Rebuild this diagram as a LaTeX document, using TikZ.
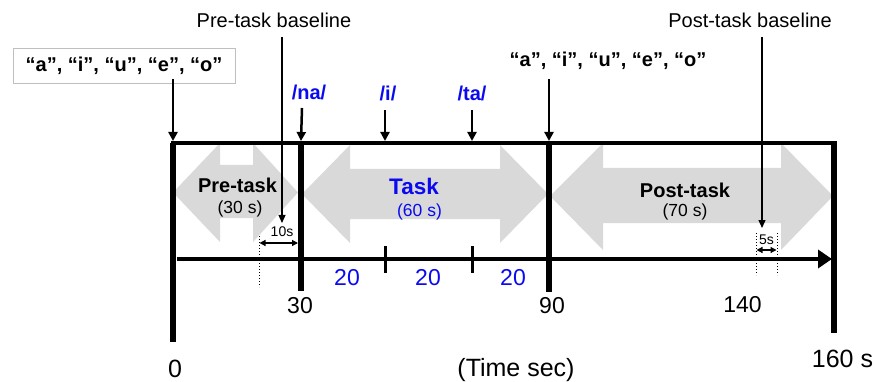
\documentclass[tikz,border=0pt]{standalone}
\usepackage{fontspec}
\setmainfont{Liberation Sans}
\usetikzlibrary{arrows.meta}
\definecolor{arrgray}{HTML}{D9D9D9}
\definecolor{txtblue}{HTML}{0A0AF0}
\begin{document}
\begin{tikzpicture}[x=1pt,y=-1pt,
  lbl/.style={inner sep=0pt,font=\fontsize{20}{24}\selectfont},
  blbl/.style={inner sep=0pt,font=\fontsize{20}{24}\selectfont\bfseries},
  sublbl/.style={inner sep=0pt,font=\fontsize{17.5}{21}\selectfont},
  numlbl/.style={inner sep=0pt,font=\fontsize{23}{27}\selectfont},
  biglbl/.style={inner sep=0pt,font=\fontsize{25}{30}\selectfont},
  smlbl/.style={inner sep=0pt,font=\fontsize{14}{16}\selectfont},
  thickv/.style={line width=6pt},
  eventarrow/.style={line width=2.5pt,-{Triangle[length=9pt,width=9pt]}},
  basearrow/.style={line width=1.2pt,-{Triangle[length=8pt,width=7pt]}},
  dimarrow/.style={line width=1.2pt,{Triangle[length=6pt,width=6pt]}-{Triangle[length=6pt,width=6pt]}},
  dotline/.style={line width=1pt,dotted},
  grayarrow/.style={fill=arrgray,draw=none}]
\useasboundingbox (0,0) rectangle (875,382);

% gray double arrows
\fill[grayarrow] (173,192.5) -- (220,143) -- (220,165) -- (253,165) -- (253,143) -- (298,192.5)
  -- (253,242) -- (253,218) -- (220,218) -- (220,242) -- cycle;
\fill[grayarrow] (302,194) -- (350,145) -- (350,169) -- (500,169) -- (500,145) -- (548,194)
  -- (500,243) -- (500,219) -- (350,219) -- (350,243) -- cycle;
\fill[grayarrow] (550,196) -- (603,143) -- (603,168) -- (781,168) -- (781,143) -- (833,196)
  -- (781,250) -- (781,223) -- (603,223) -- (603,250) -- cycle;

% coordinates
\coordinate (t0top) at (173,141);
\coordinate (t0bot) at (173,342);
\coordinate (t30top) at (301,141);
\coordinate (t30bot) at (301,291);
\coordinate (t90top) at (549,141);
\coordinate (t90bot) at (549,292);
\coordinate (t160top) at (834,141);
\coordinate (t160bot) at (834,333);
\coordinate (axstart) at (177,259);
\coordinate (axend) at (832,259);

% frame lines
\draw[line width=4pt] (171,143) -- (837,143);
\draw[thickv] (173,143) -- (t0bot);
\draw[thickv] (301,143) -- (t30bot);
\draw[thickv] (549,143) -- (t90bot);
\draw[thickv] (834,143) -- (t160bot);

% time axis
\draw[line width=4.5pt,-{Triangle[length=14pt,width=18pt]}] (axstart) -- (axend);
\coordinate (tickA1) at (385,246);
\coordinate (tickA2) at (385,273);
\coordinate (tickB1) at (472,246);
\coordinate (tickB2) at (472,273);
\draw[line width=3pt] (tickA1) -- (tickA2);
\draw[line width=3pt] (tickB1) -- (tickB2);

% vowel stimuli
\node[blbl,draw=gray!50,line width=0.8pt,minimum width=222pt,minimum height=35pt] (vbox) at (124,65.5) {“a”, “i”, “u”, “e”, “o”};
\coordinate (vboxout) at (173,79);
\draw[eventarrow] (vboxout) -- (t0top);
\node[blbl] (vtext2) at (608,61) {“a”, “i”, “u”, “e”, “o”};
\coordinate (v2out) at (549,79);
\draw[eventarrow] (v2out) -- (t90top);

% task syllables
\node[blbl,text=txtblue] (na) at (309,92) {/na/};
\node[blbl,text=txtblue] (ii) at (388,93) {/i/};
\node[blbl,text=txtblue] (ta) at (472,93) {/ta/};
\coordinate (naout) at (302,108);
\coordinate (iout) at (385,110);
\coordinate (iin) at (385,141);
\coordinate (taout) at (472,110);
\coordinate (tain) at (472,141);
\draw[eventarrow] (naout) -- (t30top);
\draw[eventarrow] (iout) -- (iin);
\draw[eventarrow] (taout) -- (tain);

% baselines
\node[lbl] (prebase) at (274,20) {Pre-task baseline};
\node[lbl] (postbase) at (750,20) {Post-task baseline};
\coordinate (prefrom) at (282,37);
\coordinate (preto) at (282,223);
\coordinate (postfrom) at (762,37);
\coordinate (postto) at (762,228);
\draw[basearrow] (prefrom) -- (preto);
\draw[basearrow] (postfrom) -- (postto);

% 10 s window
\coordinate (d10a) at (259,236);
\coordinate (d10b) at (259,287);
\draw[dotline] (d10a) -- (d10b);
\coordinate (w10l) at (259.5,243);
\coordinate (w10r) at (298,243);
\draw[dimarrow] (w10l) -- (w10r);
\node[smlbl] (lab10) at (282,232) {10s};

% 5 s window
\coordinate (d5a) at (756,233);
\coordinate (d5b) at (756,275);
\coordinate (d5c) at (777,233);
\coordinate (d5d) at (777,275);
\draw[dotline] (d5a) -- (d5b);
\draw[dotline] (d5c) -- (d5d);
\coordinate (w5l) at (756.5,250);
\coordinate (w5r) at (776.5,250);
\draw[dimarrow] (w5l) -- (w5r);
\node[smlbl] (lab5) at (766.5,240) {5s};

% phase labels
\node[blbl] (pre) at (237.5,185.5) {Pre-task};
\node[sublbl] (pred) at (240,209) {(30 s)};
\node[inner sep=0pt,font=\fontsize{22.5}{27}\selectfont\bfseries,text=txtblue] (task) at (414,186) {Task};
\node[sublbl,text=txtblue] (taskd) at (419.5,211.5) {(60 s)};
\node[blbl] (post) at (685,190) {Post-task};
\node[sublbl] (postd) at (685,212) {(70 s)};

% numbers
\node[numlbl,text=txtblue] (s1) at (347,278) {20};
\node[numlbl,text=txtblue] (s2) at (428,278) {20};
\node[numlbl,text=txtblue] (s3) at (513,278) {20};
\node[numlbl] (n30) at (300,306) {30};
\node[numlbl] (n90) at (552,306) {90};
\node[numlbl] (n140) at (742.5,305) {140};
\node[biglbl] (n0) at (175,369) {0};
\node[biglbl] (tsec) at (516,370) {(Time sec)};
\node[biglbl] (n160) at (842.5,359) {160 s};
\end{tikzpicture}
\end{document}
